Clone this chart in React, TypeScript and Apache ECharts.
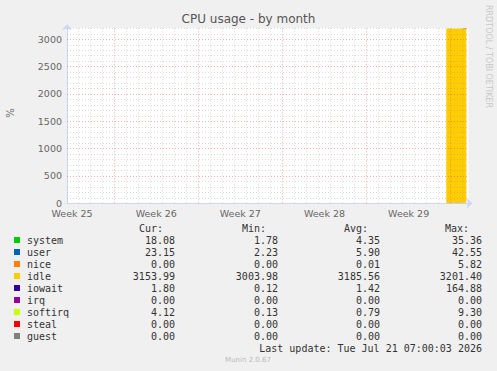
import React, { useEffect, useRef } from "react";
import * as echarts from "echarts";

// ---- data (x in days from graph start) ----
const sampleDays = [31.55, 31.72, 31.88, 32.05, 32.22, 32.38, 32.55, 32.72, 32.88, 33.05, 33.22];
const systemVals = [3.1, 2.4, 1.9, 2.6, 5.8, 4.9, 3.6, 2.2, 4.1, 6.3, 18.1];
const userVals = [4.2, 3.0, 2.5, 3.4, 8.1, 6.7, 4.8, 2.9, 5.6, 9.4, 23.2];
const niceVals = [0, 0, 0, 0, 0.02, 0, 0, 0, 0.01, 0, 0];
const idleVals = [3190.2, 3192.5, 3194.1, 3191.8, 3182.6, 3185.3, 3188.9, 3193.2, 3186.7, 3178.4, 3154.0];
const iowaitVals = [1.1, 0.9, 0.6, 1.2, 2.0, 1.5, 1.3, 0.8, 1.7, 2.3, 1.8];
const irqVals = [0, 0, 0, 0, 0, 0, 0, 0, 0, 0, 0];
const softirqVals = [0.6, 0.5, 0.4, 0.5, 1.0, 0.9, 0.7, 0.5, 0.8, 1.1, 4.1];
const stealVals = [0, 0, 0, 0, 0, 0, 0, 0, 0, 0, 0];
const guestVals = [0, 0, 0, 0, 0, 0, 0, 0, 0, 0, 0];

const seriesNames = ["system", "user", "nice", "idle", "iowait", "irq", "softirq", "steal", "guest"];
const seriesColors = ["#00CC00", "#0066B3", "#FF8000", "#FFCC00", "#330099", "#990099", "#CCFF00", "#FF0000", "#808080"];
const seriesValues = [systemVals, userVals, niceVals, idleVals, iowaitVals, irqVals, softirqVals, stealVals, guestVals];

const curVals = ["18.08", "23.15", "0.00", "3153.99", "1.80", "0.00", "4.12", "0.00", "0.00"];
const minVals = ["1.78", "2.23", "0.00", "3003.98", "0.12", "0.00", "0.13", "0.00", "0.00"];
const avgVals = ["4.35", "5.90", "0.01", "3185.56", "1.42", "0.00", "0.79", "0.00", "0.00"];
const maxVals = ["35.36", "42.55", "5.82", "3201.40", "164.88", "0.00", "9.30", "0.00", "0.00"];

const weekLabels = ["Week 25", "Week 26", "Week 27", "Week 28", "Week 29"];
const weekLabelDays = [0.42, 7.42, 14.42, 21.42, 28.42];
const mondayDays = [3.92, 10.92, 17.92, 24.92, 31.92];
const firstMidnight = 0.92;
const spanDays = 33.4;
const yMax = 3207;
const yTicks = [0, 500, 1000, 1500, 2000, 2500, 3000];

const GRID = "rgba(150,150,150,0.35)";
const MGRID = "rgba(222,79,79,0.45)";
const AXIS = "#CFD6F8";
const FONT = "#666666";
const MONO = "'DejaVu Sans Mono', monospace";
const SANS = "'DejaVu Sans', sans-serif";

export default function App() {
  const ref = useRef<HTMLDivElement>(null);
  useEffect(() => {
    if (!ref.current) return;
    const chart = echarts.init(ref.current, undefined, { renderer: "svg" });

    const minorV: number[] = [];
    for (let d = firstMidnight; d < spanDays; d += 1) {
      if (!mondayDays.some((m) => Math.abs(m - d) < 0.01)) minorV.push(d);
    }
    const minorH: number[] = [];
    for (let v = 100; v <= 3200; v += 100) if (v % 500 !== 0) minorH.push(v);

    const dash = [1, 2];
    const gridLines: any[] = [];
    minorV.forEach((d) => gridLines.push({ xAxis: d, lineStyle: { color: GRID, type: dash, width: 1 } }));
    minorH.forEach((v) => gridLines.push({ yAxis: v, lineStyle: { color: GRID, type: dash, width: 1 } }));
    mondayDays.forEach((d) => gridLines.push({ xAxis: d, lineStyle: { color: MGRID, type: dash, width: 1 } }));
    yTicks.filter((v) => v > 0).forEach((v) => gridLines.push({ yAxis: v, lineStyle: { color: MGRID, type: dash, width: 1 } }));

    // data stored as [value, day] so that the stacked dimension is the y value
    const series: any[] = seriesNames.map((name, i) => ({
      name,
      type: "line",
      stack: "cpu",
      step: "end",
      showSymbol: false,
      symbol: "none",
      lineStyle: { width: 0 },
      areaStyle: { color: seriesColors[i], opacity: 1 },
      itemStyle: { color: seriesColors[i] },
      dimensions: ["v", "t"],
      encode: { x: 1, y: 0 },
      data: sampleDays.map((t, k) => [seriesValues[i][k], t]),
      z: 2,
    }));
    series.push({
      type: "line",
      data: [],
      showSymbol: false,
      symbol: "none",
      z: 10,
      silent: true,
      markLine: {
        silent: true,
        symbol: "none",
        label: { show: false },
        animation: false,
        data: gridLines,
      },
    });

    const graphics: any[] = [];
    graphics.push({
      type: "text",
      left: "center",
      top: 13,
      style: { text: "CPU usage - by month", font: `12px ${SANS}`, fill: "#555555" },
    });
    graphics.push({
      type: "text",
      x: 10,
      y: 113,
      rotation: Math.PI / 2,
      style: { text: "%", font: `10px ${SANS}`, fill: FONT, align: "center", verticalAlign: "middle" },
    });
    graphics.push({
      type: "text",
      x: 488,
      y: 5,
      rotation: -Math.PI / 2,
      style: { text: "RRDTOOL / TOBI OETIKER", font: `8px ${SANS}`, fill: "#C8C8C8", align: "left", verticalAlign: "middle" },
    });
    const rowY0 = 240;
    const rowH = 12;
    const legendFont = `10px ${MONO}`;
    const colRight = [175, 278, 380, 482];
    const headRight = [163, 266, 368, 469];
    const heads = ["Cur:", "Min:", "Avg:", "Max:"];
    heads.forEach((h, j) =>
      graphics.push({
        type: "text",
        x: headRight[j],
        y: 228,
        style: { text: h, font: legendFont, fill: "#333333", align: "right", verticalAlign: "middle" },
      })
    );
    const cols = [curVals, minVals, avgVals, maxVals];
    seriesNames.forEach((name, i) => {
      const y = rowY0 + i * rowH;
      graphics.push({
        type: "rect",
        shape: { x: 14, y: y - 3, width: 6, height: 6 },
        style: { fill: seriesColors[i] },
      });
      graphics.push({
        type: "text",
        x: 27,
        y,
        style: { text: name, font: legendFont, fill: "#333333", align: "left", verticalAlign: "middle" },
      });
      cols.forEach((c, j) =>
        graphics.push({
          type: "text",
          x: colRight[j],
          y,
          style: { text: c[i], font: legendFont, fill: "#333333", align: "right", verticalAlign: "middle" },
        })
      );
    });
    graphics.push({
      type: "text",
      x: 482,
      y: 348,
      style: { text: "Last update: Tue Jul 21 07:00:03 2026", font: legendFont, fill: "#333333", align: "right", verticalAlign: "middle" },
    });
    graphics.push({
      type: "text",
      x: 248,
      y: 360,
      style: { text: "Munin 2.0.67", font: `7px ${SANS}`, fill: "#BBBBBB", align: "center", verticalAlign: "middle" },
    });

    chart.setOption({
      animation: false,
      backgroundColor: "#F0F0F0",
      grid: { left: 67, right: 28.5, top: 28, bottom: 167.7, show: true, backgroundColor: "#FFFFFF", borderWidth: 0 },
      xAxis: {
        type: "value",
        min: 0,
        max: spanDays,
        axisLine: { show: true, lineStyle: { color: AXIS, width: 1 }, symbol: ["none", "arrow"], symbolSize: [8, 6], symbolOffset: [0, 4] },
        axisTick: { show: false },
        splitLine: { show: false },
        axisLabel: {
          customValues: weekLabelDays,
          formatter: (v: number) => {
            const idx = weekLabelDays.findIndex((d) => Math.abs(d - v) < 0.01);
            return idx >= 0 ? weekLabels[idx] : "";
          },
          color: FONT,
          fontFamily: SANS,
          fontSize: 9.5,
          margin: 5,
        },
      },
      yAxis: {
        type: "value",
        min: 0,
        max: yMax,
        interval: 500,
        axisLine: { show: true, lineStyle: { color: AXIS, width: 1 }, symbol: ["none", "arrow"], symbolSize: [8, 6], symbolOffset: [0, 4] },
        axisTick: { show: false },
        splitLine: { show: false },
        axisLabel: {
          formatter: (v: number) => (yTicks.includes(v) ? String(v) : ""),
          color: FONT,
          fontFamily: SANS,
          fontSize: 9.5,
          margin: 5,
        },
      },
      series,
      graphic: graphics,
    });
    return () => chart.dispose();
  }, []);
  return <div ref={ref} style={{ width: 497, height: 371, position: "absolute", left: 0, top: 0 }} />;
}
